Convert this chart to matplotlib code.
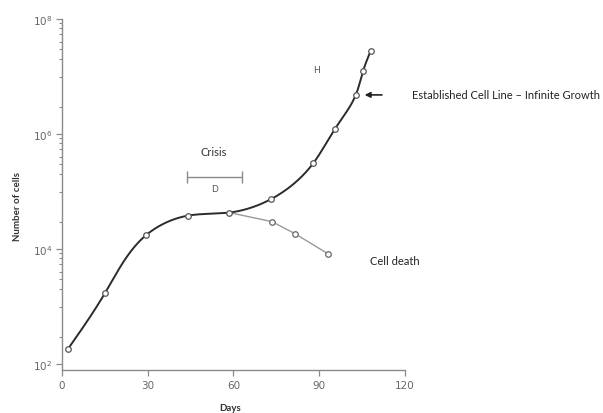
import numpy as np
import matplotlib.pyplot as plt
from matplotlib.ticker import FixedLocator, NullFormatter

# growth curve (days, number of cells)
main_days = [2, 15, 29.4, 44, 58.5, 73.2, 87.9, 95.5, 102.8, 105.3, 108]
main_cells = [180, 1.7e3, 1.74e4, 3.8e4, 4.3e4, 7.4e4, 3.1e5, 1.23e6, 4.8e6, 1.23e7, 2.8e7]

# branch that dies off after the crisis
death_days = [58.5, 73.4, 81.4, 93.0]
death_cells = [4.3e4, 3.0e4, 1.86e4, 8.3e3]

crisis_start, crisis_end = 43.6, 62.9

x_ticks = [0, 30, 60, 90, 120]
y_ticks = [1e2, 1e4, 1e6, 1e8]
y_tick_labels = ['$10^{2}$', '$10^{4}$', '$10^{6}$', '$10^{8}$']


def natural_spline(x, y, xs):
    # plain natural cubic spline, no scipy around
    x = np.asarray(x, float)
    y = np.asarray(y, float)
    n = len(x)
    h = np.diff(x)
    A = np.zeros((n, n))
    r = np.zeros(n)
    A[0, 0] = A[-1, -1] = 1
    for k in range(1, n - 1):
        A[k, k - 1] = h[k - 1]
        A[k, k] = 2 * (h[k - 1] + h[k])
        A[k, k + 1] = h[k]
        r[k] = 6 * ((y[k + 1] - y[k]) / h[k] - (y[k] - y[k - 1]) / h[k - 1])
    M = np.linalg.solve(A, r)
    i = np.clip(np.searchsorted(x, xs) - 1, 0, n - 2)
    a = x[i + 1] - xs
    b = xs - x[i]
    hi = h[i]
    return (M[i] * a**3 / (6 * hi) + M[i + 1] * b**3 / (6 * hi)
            + (y[i] / hi - M[i] * hi / 6) * a + (y[i + 1] / hi - M[i + 1] * hi / 6) * b)


def smooth_curve(days, cells, n=600):
    # parametric spline on chord length, in roughly screen-shaped units
    u = np.asarray(days, float) / 120 * 343
    v = np.log10(cells) * 57.5
    t = np.concatenate([[0], np.cumsum(np.hypot(np.diff(u), np.diff(v)))])
    ts = np.linspace(0, t[-1], n)
    us = natural_spline(t, u, ts)
    vs = natural_spline(t, v, ts)
    return us * 120 / 343, 10 ** (vs / 57.5)


fig = plt.figure(figsize=(6.03, 4.14), dpi=100)
ax = fig.add_axes([62 / 603, 43 / 414, 343 / 603, 351 / 414])

xs, ys = smooth_curve(main_days, main_cells)
ax.plot(xs, ys, color='#2b2b2b', lw=1.4, zorder=2)
ax.plot(main_days, main_cells, 'o', ms=4, mfc='white', mec='#555555', mew=0.9, zorder=3)

ax.plot(death_days, death_cells, color='#9a9a9a', lw=1.0, zorder=1)
ax.plot(death_days[1:], death_cells[1:], 'o', ms=4, mfc='white', mec='#666666', mew=0.9, zorder=3)

ax.set_yscale('log')
ax.set_xlim(0, 120)
ax.set_ylim(10 ** 1.896, 1e8)

ax.set_xticks(x_ticks)
ax.set_yticks(y_ticks)
ax.set_yticklabels(y_tick_labels)
minor = []
for a in [2, 4, 6]:
    for s in [3, 10, 20, 30, 40, 55, 70, 85]:
        minor.append(s * 10 ** a)
ax.yaxis.set_minor_locator(FixedLocator(minor))
ax.yaxis.set_minor_formatter(NullFormatter())

for side in ['top', 'right']:
    ax.spines[side].set_visible(False)
for side in ['left', 'bottom']:
    ax.spines[side].set_color('#8a8a8a')
    ax.spines[side].set_linewidth(1.0)
ax.tick_params(axis='both', which='major', colors='#8a8a8a', labelcolor='#666666',
               labelsize=7.5, length=4, width=0.9, pad=3)
ax.tick_params(axis='y', which='minor', colors='#8a8a8a', length=2.5, width=0.8)

# labels
fig.text(230 / 603, 1 - 409 / 414, 'Days', ha='center', va='center',
         fontsize=7, color='#333333', family='Lato', fontweight='bold')
fig.text(17 / 603, 1 - 207 / 414, 'Number of cells', ha='center', va='center',
         rotation=90, fontsize=7, color='#333333', family='Lato', fontweight='bold')

# annotations
gray = '#8a8a8a'
ax.errorbar((crisis_start + crisis_end) / 2, 10 ** 5.25, xerr=(crisis_end - crisis_start) / 2,
            fmt='none', ecolor=gray, elinewidth=1.0, capsize=4, capthick=1.0)
ax.text(53.2, 10 ** 5.69, 'Crisis', ha='center', va='center', fontsize=8, color='#333333', family='Lato')
ax.text(53.2, 10 ** 5.06, 'D', ha='center', va='center', fontsize=6.5, color='#555555')
ax.text(89.1, 10 ** 7.12, 'H', ha='center', va='center', fontsize=6.5, color='#555555')
ax.annotate('', xy=(104.9, 10 ** 6.68), xytext=(112.9, 10 ** 6.68),
            arrowprops=dict(arrowstyle='-|>', color='#222222', lw=1.2, mutation_scale=8),
            annotation_clip=False)
ax.text(122.5, 10 ** 6.68, 'Established Cell Line \u2013 Infinite Growth', ha='left', va='center',
        fontsize=8, color='#222222', family='Lato', clip_on=False)
ax.text(107.8, 10 ** 3.80, 'Cell death', ha='left', va='center',
        fontsize=8, color='#222222', family='Lato', clip_on=False)

fig.savefig('out.png', dpi=100)
